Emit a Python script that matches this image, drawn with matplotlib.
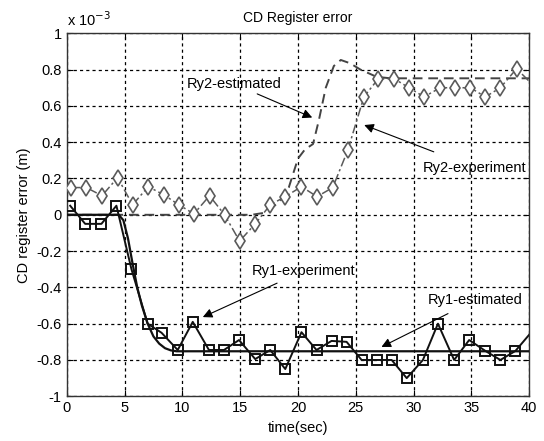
#CD register error: experiment vs estimated response for Ry1 and Ry2
import matplotlib
matplotlib.use('Agg')
import matplotlib.pyplot as plt
import numpy as np

plt.rcParams['font.family'] = ['Liberation Sans', 'DejaVu Sans']

# Ry1 experiment (squares), values in units of 1e-3 m
ry1_exp_t = [0.3, 1.6, 3.0, 4.3, 5.6, 7.0, 8.2, 9.6, 10.9, 12.3, 13.6, 14.9, 16.3, 17.6,
             18.9, 20.3, 21.6, 22.9, 24.2, 25.5, 26.8, 28.1, 29.4, 30.8, 32.1, 33.5,
             34.8, 36.2, 37.5, 38.8]
ry1_exp_v = [0.05, -0.05, -0.05, 0.05, -0.3, -0.6, -0.65, -0.745, -0.59, -0.745, -0.745,
             -0.69, -0.795, -0.745, -0.85, -0.647, -0.745, -0.695, -0.7, -0.8, -0.8, -0.8,
             -0.9, -0.8, -0.6, -0.8, -0.69, -0.75, -0.8, -0.75]
ry1_end_t = 40.0
ry1_end_v = -0.66

# Ry1 estimated
ry1_est_t = [0, 4.5, 4.9, 5.3, 5.7, 6.1, 6.5, 7.0, 7.5, 8.0, 8.5, 9.0, 9.5, 10.0, 40]
ry1_est_v = [0, 0, -0.03, -0.13, -0.27, -0.4, -0.5, -0.6, -0.67, -0.71, -0.735, -0.747,
             -0.752, -0.752, -0.752]

# Ry2 experiment (diamonds)
ry2_exp_t = [0.4, 1.7, 3.05, 4.4, 5.7, 7.05, 8.4, 9.7, 11.0, 12.35, 13.65, 14.95, 16.3,
             17.6, 18.9, 20.3, 21.65, 23.0, 24.3, 25.7, 26.95, 28.3, 29.6, 30.9, 32.3,
             33.6, 34.9, 36.2, 37.5, 38.9]
ry2_exp_v = [0.15, 0.15, 0.105, 0.205, 0.055, 0.155, 0.11, 0.055, 0.005, 0.105, 0.0, -0.145,
             -0.05, 0.055, 0.1, 0.155, 0.1, 0.15, 0.355, 0.65, 0.75, 0.75, 0.7, 0.65,
             0.7, 0.7, 0.7, 0.65, 0.7, 0.805]
ry2_end_t = 40.0
ry2_end_v = 0.735

# Ry2 estimated
ry2_est_t = [0, 15.0, 16.0, 17.0, 17.8, 18.5, 19.2, 20.0, 20.6, 21.3, 21.8, 22.4, 23.1,
             23.7, 24.5, 25.4, 26.8, 28.0, 40]
ry2_est_v = [0, 0, 0, 0.01, 0.04, 0.08, 0.15, 0.31, 0.36, 0.39, 0.52, 0.70, 0.82, 0.853,
             0.835, 0.80, 0.76, 0.752, 0.752]

xticks = np.arange(0, 41, 5)
yticks = np.round(np.arange(-1, 1.01, 0.2), 1)

fig = plt.figure(figsize=(5.44, 4.41), dpi=100)
ax = fig.add_axes([0.1226, 0.1014, 0.8504, 0.8231])

gray = '#5a5a5a'
ax.plot(ry2_est_t, ry2_est_v, color='#444444', ls=(0, (5, 3)), lw=1.4, zorder=3)
ax.plot(ry2_exp_t + [ry2_end_t], ry2_exp_v + [ry2_end_v], color=gray, ls=(0, (6, 2, 1.5, 2)),
        lw=1.1, zorder=3)
ax.plot(ry2_exp_t, ry2_exp_v, ls='none', marker='d', ms=8, mfc='white', mec=gray, mew=1.2,
        zorder=4)
ax.plot(ry1_est_t, ry1_est_v, color='#111111', lw=1.6, zorder=5)
ax.plot(ry1_exp_t + [ry1_end_t], ry1_exp_v + [ry1_end_v], color='#111111', lw=1.4, zorder=5)
ax.plot(ry1_exp_t, ry1_exp_v, ls='none', marker='s', ms=7, mfc='none', mec='#111111',
        mew=1.4, zorder=6)

ax.set_xlim(0, 40)
ax.set_ylim(-1, 1)
ax.set_xticks(xticks)
ax.set_yticks(yticks)
ax.set_xticklabels([str(t) for t in xticks])
ax.set_yticklabels(['%g' % (v + 0.0) for v in yticks])
ax.tick_params(direction='in', top=True, right=True, labelsize=10.5, length=4)
ax.grid(True, color='black', ls=(0, (2.5, 2.5)), lw=0.9)
for s in ax.spines.values():
    s.set_color('#333333')
    s.set_linewidth(1.0)

ax.set_title('CD Register error', fontsize=10, pad=8)
ax.set_xlabel('time(sec)', fontsize=10.5)
ax.set_ylabel('CD register error (m)', fontsize=10.5, labelpad=4)
ax.text(0.0, 1.012, r'x 10$^{-3}$', transform=ax.transAxes, fontsize=10.5, ha='left',
        va='bottom')

arw = dict(arrowstyle='-|>', color='black', lw=0.8, mutation_scale=14)
ax.annotate('Ry2-estimated', xy=(21.45, 0.53), xytext=(10.4, 0.72), fontsize=10.5,
            ha='left', va='center', arrowprops=dict(arw, shrinkA=0), zorder=7)
ax.annotate('Ry2-experiment', xy=(25.5, 0.50), xytext=(30.8, 0.26), fontsize=10.5,
            ha='left', va='center', arrowprops=dict(arw, shrinkA=12), zorder=7)
ax.annotate('Ry1-experiment', xy=(11.55, -0.57), xytext=(16.0, -0.31), fontsize=10.5,
            ha='left', va='center', arrowprops=dict(arw, shrinkA=4), zorder=7)
ax.annotate('Ry1-estimated', xy=(27.0, -0.735), xytext=(31.2, -0.47), fontsize=10.5,
            ha='left', va='center', arrowprops=dict(arw, shrinkA=6), zorder=7)

fig.savefig('out.png', dpi=100)
